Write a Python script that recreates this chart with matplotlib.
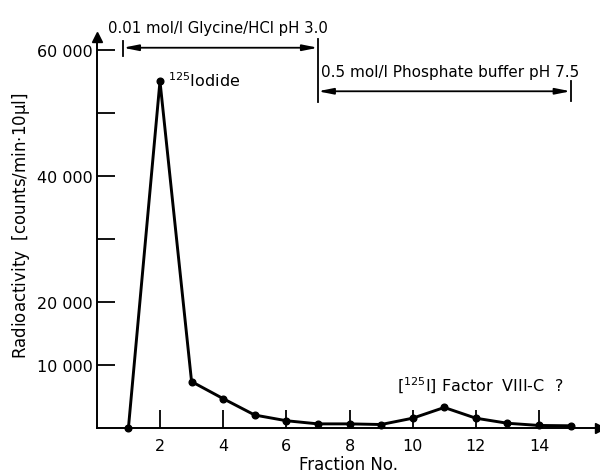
import matplotlib
matplotlib.use("Agg")
import matplotlib.pyplot as plt

fraction = [1, 2, 3, 4, 5, 6, 7, 8, 9, 10, 11, 12, 13, 14, 15]
radioactivity = [0, 55000, 7400, 4700, 2100, 1200, 700, 700, 600, 1600, 3300, 1600, 800, 450, 400]

xticks = [2, 4, 6, 8, 10, 12, 14]
yticks = [10000, 20000, 30000, 40000, 50000, 60000]
ytick_labels = ["10 000", "20 000", "", "40 000", "", "60 000"]

glycine_range = (0.83, 7.0)
phosphate_range = (7.0, 15.0)

plt.rcParams["font.family"] = ["DejaVu Sans"]
FS = 11.5

fig = plt.figure(figsize=(6.0, 4.77), dpi=100)
ax = fig.add_axes([96.8 / 600, 0.1, 503.2 / 600, 391.3 / 477])
ax.set_xlim(0, 15.93)
ax.set_ylim(0, 62000)

ax.plot(fraction, radioactivity, color="black", lw=2.1, marker="o", ms=4.8,
        clip_on=False, zorder=3)

for s in ["top", "right"]:
    ax.spines[s].set_visible(False)
for s in ["left", "bottom"]:
    ax.spines[s].set_linewidth(1.4)

ax.plot(1, 0, marker=">", color="black", ms=7, transform=ax.get_yaxis_transform(), clip_on=False)
ax.plot(0, 1, marker="^", color="black", ms=7, transform=ax.get_xaxis_transform(), clip_on=False)

ax.set_xticks(xticks)
ax.set_xticklabels([str(t) for t in xticks])
ax.set_yticks(yticks)
ax.set_yticklabels(ytick_labels)
ax.tick_params(axis="both", direction="in", length=13, width=1.3, labelsize=FS)
ax.tick_params(axis="x", pad=7)
ax.tick_params(axis="y", pad=3)

ax.set_xlabel("Fraction No.", fontsize=FS + 0.5, labelpad=1.5)
fig.text(0.035, 0.526, "Radioactivity  [counts/min$\\cdot$10$\\mathregular{\\mu}$l]", rotation=90,
         ha="center", va="center", fontsize=FS + 0.5)

arrow_kw = dict(arrowstyle="<|-|>,head_length=0.9,head_width=0.18", color="black", lw=1.3,
                shrinkA=0, shrinkB=0)
# Glycine arrow
ax.annotate("", xy=(glycine_range[0], 60300), xytext=(glycine_range[1], 60300), arrowprops=arrow_kw,
            annotation_clip=False)
ax.plot([glycine_range[0]] * 2, [59000, 61400], color="black", lw=1.3, clip_on=False)
ax.plot([glycine_range[1]] * 2, [51700, 61700], color="black", lw=1.3, clip_on=False)
ax.text(3.85, 62300, "0.01 mol/l Glycine/HCl pH 3.0", ha="center", va="bottom", fontsize=FS - 0.8)
# Phosphate arrow
ax.annotate("", xy=(phosphate_range[0], 53400), xytext=(phosphate_range[1], 53400), arrowprops=arrow_kw,
            annotation_clip=False)
ax.plot([phosphate_range[1]] * 2, [51800, 55000], color="black", lw=1.3, clip_on=False)
ax.text(11.2, 55400, "0.5 mol/l Phosphate buffer pH 7.5", ha="center", va="bottom", fontsize=FS - 0.5)

ax.text(2.25, 53700, "$\\mathregular{^{125}}$Iodide", ha="left", va="bottom", fontsize=FS)
ax.text(9.5, 5200, "[$\\mathregular{^{125}}$I] Factor  VIII-C  ?", ha="left", va="bottom", fontsize=FS)

fig.savefig("out.png", dpi=100)
